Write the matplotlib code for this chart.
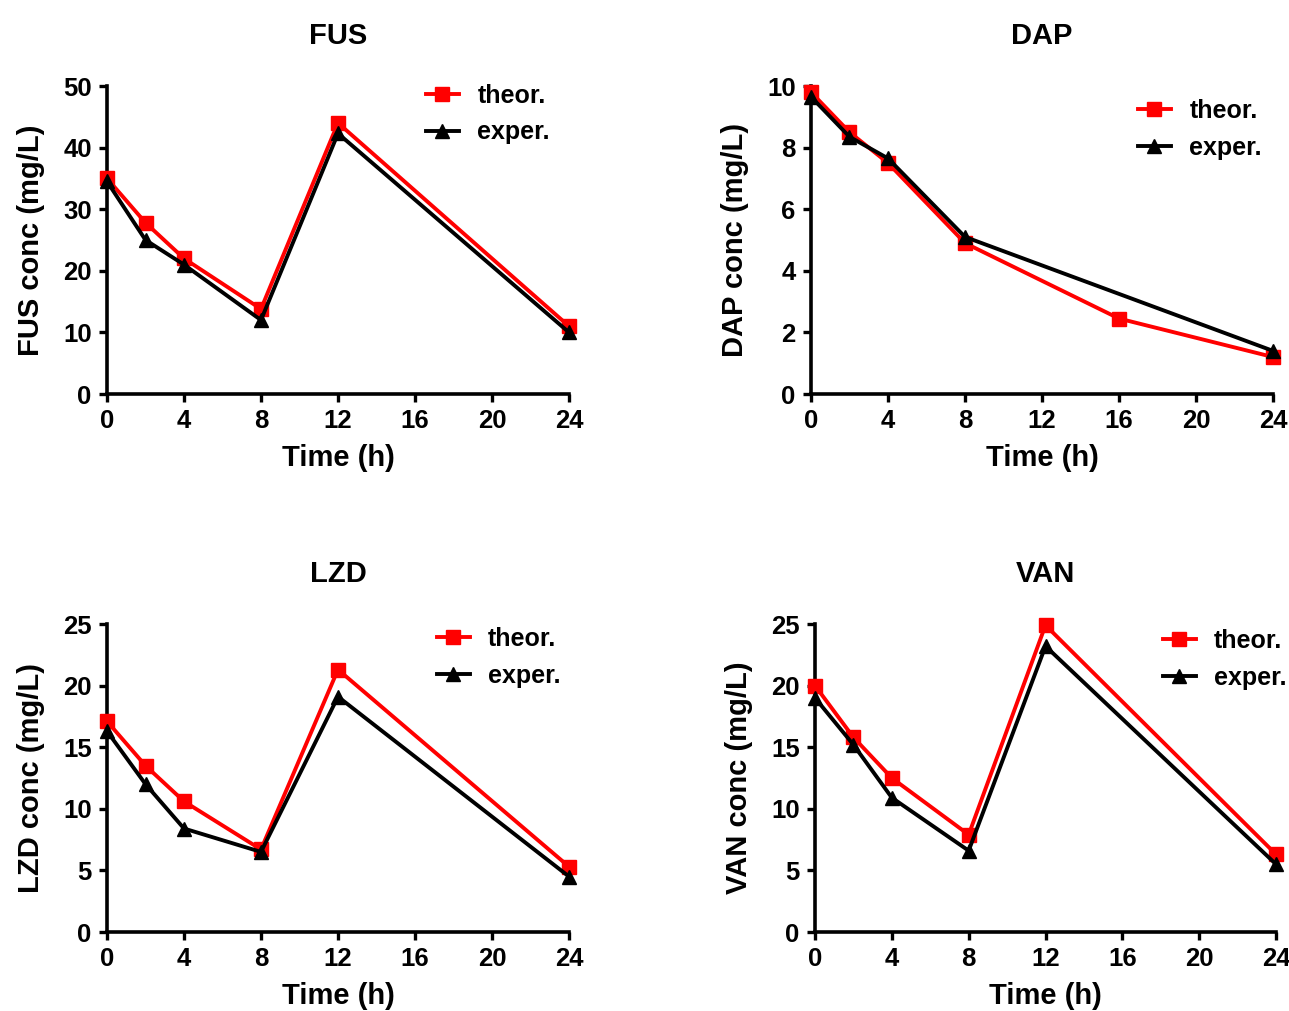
import numpy as np
import matplotlib
matplotlib.use('Agg')
import matplotlib.pyplot as plt

plt.rcParams['font.family'] = ['Liberation Sans', 'DejaVu Sans']
plt.rcParams['font.weight'] = 'bold'

# ------------------------------------------------------------------
# data
fus_t = [0, 2, 4, 8, 12, 24]
fus_theor = [35.0, 27.8, 22.0, 13.8, 44.0, 11.0]
fus_exper = [34.5, 25.0, 21.0, 12.0, 42.3, 10.0]

dap_t_theor = [0, 2, 4, 8, 16, 24]
dap_theor = [9.8, 8.5, 7.5, 4.9, 2.45, 1.2]
dap_t_exper = [0, 2, 4, 8, 24]
dap_exper = [9.65, 8.35, 7.65, 5.1, 1.4]

lzd_t = [0, 2, 4, 8, 12, 24]
lzd_theor = [17.1, 13.5, 10.6, 6.7, 21.3, 5.3]
lzd_exper = [16.3, 12.0, 8.4, 6.5, 19.1, 4.5]

van_t = [0, 2, 4, 8, 12, 24]
van_theor = [20.0, 15.8, 12.5, 7.9, 24.9, 6.3]
van_exper = [19.0, 15.2, 10.9, 6.6, 23.2, 5.5]

x_ticks = [0, 4, 8, 12, 16, 20, 24]

# ------------------------------------------------------------------
W, H = 1289, 1011
fig = plt.figure(figsize=(W / 100, H / 100), dpi=100)


def make_ax(x0, x1, y_top, y_bot):
    return fig.add_axes([x0 / W, 1 - y_bot / H, (x1 - x0) / W, (y_bot - y_top) / H])


panels = [
    # name, axes px, t_theor, theor, t_exper, exper, ymax, ystep, legend anchor px
    ('FUS', (107, 569, 86, 394), fus_t, fus_theor, fus_t, fus_exper, 50, 10, (421, 79)),
    ('DAP', (811, 1273, 86, 394), dap_t_theor, dap_theor, dap_t_exper, dap_exper, 10, 2, (1133, 94)),
    ('LZD', (107, 569, 624, 932), lzd_t, lzd_theor, lzd_t, lzd_exper, 25, 5, (432, 622)),
    ('VAN', (815, 1276, 624, 932), van_t, van_theor, van_t, van_exper, 25, 5, (1158, 624)),
]

for name, box, tt, yt, te, ye, ymax, ystep, leg in panels:
    ax = make_ax(*box)
    ax.plot(tt, yt, color='#ff0000', lw=2.8, marker='s', ms=10.5,
            label='theor.', clip_on=False, zorder=3)
    ax.plot(te, ye, color='black', lw=2.8, marker='^', ms=10,
            label='exper.', clip_on=False, zorder=4)
    ax.set_xlim(0, 24)
    ax.set_ylim(0, ymax)
    ax.set_xticks(x_ticks)
    ax.set_yticks(np.arange(0, ymax + ystep / 2, ystep))
    for s in ['top', 'right']:
        ax.spines[s].set_visible(False)
    for s in ['left', 'bottom']:
        ax.spines[s].set_linewidth(2.6)
    ax.tick_params(direction='out', length=6, width=2.4, labelsize=18.5, pad=5)
    for lab in ax.get_xticklabels() + ax.get_yticklabels():
        lab.set_fontweight('bold')
    ax.set_xlabel('Time (h)', fontsize=21, fontweight='bold', labelpad=8)
    ax.set_ylabel(name + ' conc (mg/L)', fontsize=21, fontweight='bold', labelpad=13)
    ax.set_title(name, fontsize=21, fontweight='bold', pad=30)
    ax.legend(loc='upper left', bbox_to_anchor=(leg[0] / W, 1 - leg[1] / H),
              bbox_transform=fig.transFigure, frameon=False,
              prop={'size': 18, 'weight': 'bold'}, handlelength=1.3,
              handletextpad=0.75, labelspacing=0.5, borderpad=0.2,
              borderaxespad=0)

fig.savefig('out.png', dpi=100)
